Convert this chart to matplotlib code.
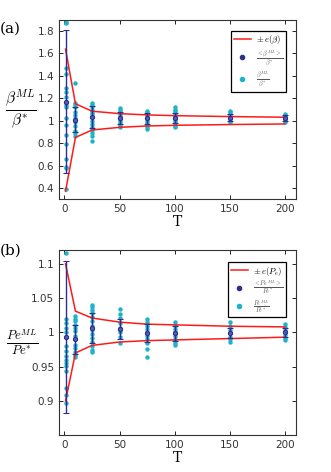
import matplotlib.pyplot as plt
import numpy as np

plt.rcParams['mathtext.fontset'] = 'cm'
plt.rcParams['font.family'] = ['DejaVu Sans']

# sample sizes
T = [1, 10, 25, 50, 75, 100, 150, 200]

# panel (a): beta^ML / beta^*
beta_pts = [
    [1.87, 1.88, 1.47, 1.42, 1.29, 1.26, 1.21, 1.17, 1.14, 1.12, 1.02, 0.96, 0.87, 0.79, 0.66, 0.59, 0.58, 0.39],
    [1.335, 1.16, 1.14, 1.12, 1.08, 1.05, 1.02, 0.99, 0.95, 0.91, 0.89, 0.86],
    [1.16, 1.14, 1.12, 1.10, 1.08, 1.06, 1.03, 1.0, 0.97, 0.94, 0.92, 0.89, 0.86, 0.82],
    [1.11, 1.10, 1.08, 1.07, 1.05, 1.03, 1.01, 0.99, 0.97, 0.95, 0.94],
    [1.09, 1.08, 1.06, 1.04, 1.02, 1.0, 0.98, 0.96, 0.94, 0.93],
    [1.12, 1.10, 1.09, 1.07, 1.05, 1.03, 1.01, 0.99, 0.97, 0.95, 0.94],
    [1.09, 1.08, 1.06, 1.04, 1.02, 1.0, 0.99],
    [1.06, 1.05, 1.04, 1.02, 1.01, 1.0, 0.99],
]
beta_mean = [1.17, 1.01, 1.035, 1.025, 1.02, 1.025, 1.028, 1.025]
beta_err = [0.64, 0.115, 0.10, 0.055, 0.05, 0.045, 0.035, 0.025]
beta_up = [1.638, 1.151, 1.085, 1.063, 1.052, 1.045, 1.037, 1.031]
beta_lo = [0.37, 0.851, 0.917, 0.941, 0.953, 0.959, 0.966, 0.971]

# panel (b): Pe^ML / Pe^*
pe_pts = [
    [1.116, 1.019, 1.013, 1.007, 1.0, 0.993, 0.98, 0.973, 0.965, 0.96, 0.955, 0.951, 0.943, 0.919, 0.909, 0.897],
    [1.024, 1.02, 1.016, 1.011, 1.007, 1.002, 0.995, 0.99, 0.982, 0.977, 0.972, 0.967, 0.964],
    [1.04, 1.037, 1.033, 1.028, 1.022, 1.016, 1.01, 1.004, 0.998, 0.992, 0.986, 0.98, 0.975, 0.971],
    [1.034, 1.027, 1.021, 1.014, 1.007, 1.0, 0.993, 0.985],
    [1.019, 1.015, 1.01, 1.005, 1.0, 0.995, 0.99, 0.984, 0.976, 0.964],
    [1.015, 1.01, 1.005, 1.0, 0.995, 0.99, 0.985, 0.981],
    [1.015, 1.009, 1.004, 0.999, 0.994, 0.99, 0.986],
    [1.012, 1.008, 1.004, 1.0, 0.996, 0.992, 0.989],
]
pe_mean = [0.993, 0.99, 1.007, 1.005, 0.999, 0.999, 0.999, 1.0]
pe_err = [0.111, 0.021, 0.022, 0.015, 0.013, 0.011, 0.007, 0.0065]
pe_up = [1.1, 1.031, 1.021, 1.015, 1.012, 1.011, 1.009, 1.008]
pe_lo = [0.9, 0.97, 0.981, 0.986, 0.988, 0.989, 0.991, 0.993]

red = '#ff1a1a'
navy = '#2e2e8f'
cyan = '#1fb3c9'

fig = plt.figure(figsize=(3.31, 4.72), dpi=100)
ax1 = fig.add_axes([0.178, 0.578, 0.716, 0.38])
ax2 = fig.add_axes([0.178, 0.078, 0.716, 0.392])


def draw(ax, pts, mean, err, up, lo, labels):
    for t, p in zip(T, pts):
        ax.plot([t] * len(p), p, 'o', color=cyan, ms=3.2, mew=0, zorder=2)
    ax.plot(T, up, '-', color=red, lw=1.1, zorder=3, label=labels[0])
    ax.plot(T, lo, '-', color=red, lw=1.1, zorder=3)
    ax.errorbar(T, mean, yerr=err, fmt='o', color=navy, ms=3, mfc='#5a5ab0',
                mec=navy, mew=0.8, elinewidth=1.0, capsize=2.5, capthick=1.0, zorder=4)
    ax.plot([], [], 'o', color=navy, ms=3, label=labels[1])
    ax.plot([], [], 'o', color=cyan, ms=3, label=labels[2])
    ax.set_xlim(-5, 210)
    ax.set_xticks([0, 50, 100, 150, 200])
    ax.tick_params(direction='in', top=True, right=True, labelsize=7.5,
                   labelcolor='#333333', length=3, width=0.6)
    for s in ax.spines.values():
        s.set_linewidth(0.8)
        s.set_color('#333333')
    ax.set_xlabel('T', family='serif', fontsize=10, labelpad=1)
    leg = ax.legend(loc='upper right', fontsize=6.3, fancybox=False, framealpha=1,
                    edgecolor='black', handlelength=2.0, borderpad=0.3,
                    labelspacing=0.2, handletextpad=0.5,
                    bbox_to_anchor=(0.975, 0.96))
    leg.get_frame().set_linewidth(0.9)
    for txt in leg.get_texts()[1:]:
        txt.set_color('#555555')


draw(ax1, beta_pts, beta_mean, beta_err, beta_up, beta_lo,
     [r'$\pm\, e(\beta)$', r'$\frac{<\beta^{ML}>}{\beta^{*}}$', r'$\frac{\beta^{ML}}{\beta^{*}}$'])
ax1.set_ylim(0.3, 1.9)
ax1.set_yticks([0.4, 0.6, 0.8, 1, 1.2, 1.4, 1.6, 1.8])
ax1.set_yticklabels(['0.4', '0.6', '0.8', '1', '1.2', '1.4', '1.6', '1.8'])
ax1.set_ylabel(r'$\frac{\beta^{ML}}{\beta^{*}}$', fontsize=16, rotation=0, va='center', ha='center')
ax1.yaxis.set_label_coords(-0.16, 0.5)

draw(ax2, pe_pts, pe_mean, pe_err, pe_up, pe_lo,
     [r'$\pm\, e(P_e)$', r'$\frac{<Pe^{ML}>}{Pe^{*}}$', r'$\frac{Pe^{ML}}{Pe^{*}}$'])
ax2.set_ylim(0.85, 1.12)
ax2.set_yticks([0.9, 0.95, 1, 1.05, 1.1])
ax2.set_yticklabels(['0.9', '0.95', '1', '1.05', '1.1'])
ax2.set_ylabel(r'$\frac{Pe^{ML}}{Pe^{*}}$', fontsize=13, rotation=0, va='center', ha='center')
ax2.yaxis.set_label_coords(-0.155, 0.5)

fig.text(0.0, 0.93, '(a)', family='serif', fontsize=11)
fig.text(0.0, 0.46, '(b)', family='serif', fontsize=11)

fig.savefig('out.png', dpi=100)
